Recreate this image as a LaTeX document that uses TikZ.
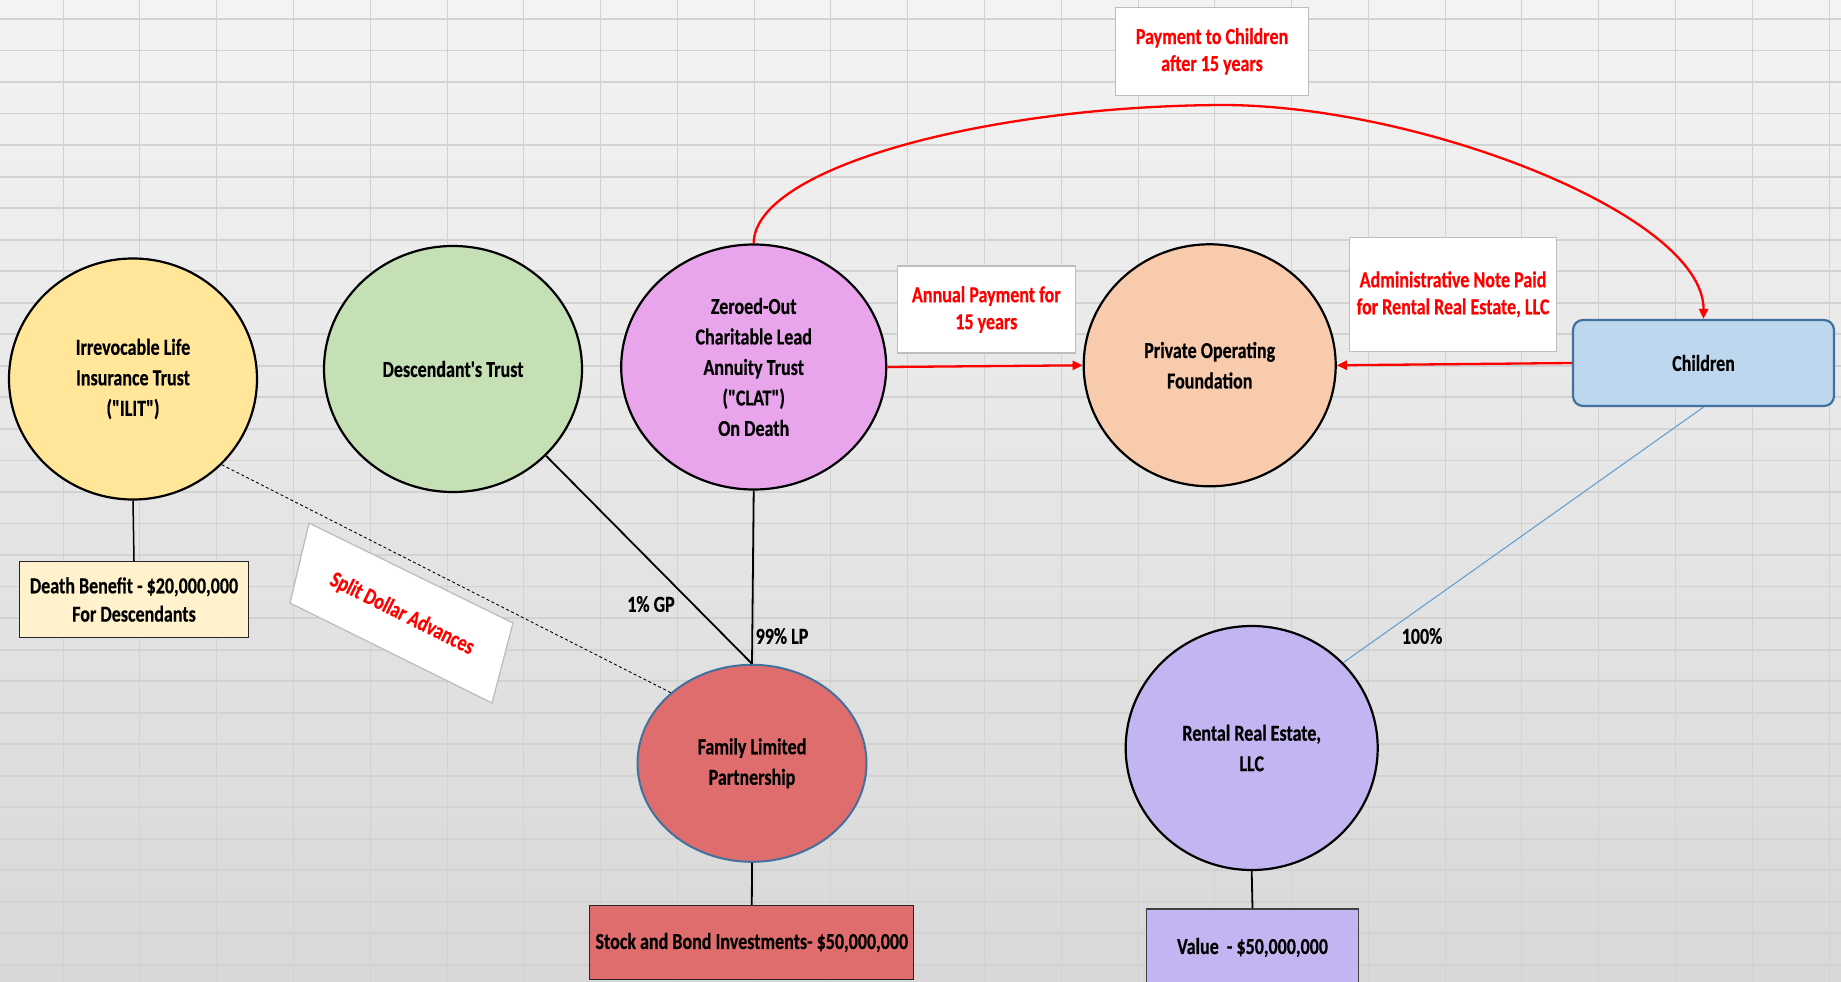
\documentclass[tikz,border=0pt]{standalone}
\usepackage{fontspec}
\setmainfont{Carlito}[FakeStretch=0.79, FakeBold=0.4, Ligatures=TeXOff]
\usetikzlibrary{arrows.meta,shapes.geometric}
\definecolor{bgtop}{RGB}{243,243,243}
\definecolor{bgbot}{RGB}{216,216,216}
\definecolor{gridc}{RGB}{210,210,210}
\definecolor{lgray}{RGB}{190,190,190}
\definecolor{ilitc}{RGB}{255,230,153}
\definecolor{descc}{RGB}{197,224,180}
\definecolor{clatc}{RGB}{232,165,235}
\definecolor{pofc}{RGB}{248,203,173}
\definecolor{flpc}{RGB}{224,109,109}
\definecolor{rentc}{RGB}{195,181,241}
\definecolor{childc}{RGB}{189,215,238}
\definecolor{childb}{RGB}{65,113,156}
\definecolor{deathc}{RGB}{255,242,204}
\definecolor{bline}{RGB}{91,155,213}
\begin{document}
\begin{tikzpicture}[x=1pt,y=-1pt,
  txt/.style={font=\bfseries\fontsize{22.8pt}{30.5pt}\selectfont, align=center, text=black},
  circ/.style={ellipse, draw=black, line width=2.2pt, inner sep=0pt, txt},
  sbox/.style={rectangle, draw=black!85, line width=1.3pt, inner sep=0pt, txt},
  lbox/.style={rectangle, fill=white, draw=lgray, line width=1.3pt, inner sep=0pt,
     font=\bfseries\fontsize{22.8pt}{27pt}\selectfont, align=center, text=red},
  conn/.style={draw=black, line width=1.8pt},
  redarr/.style={draw=red, line width=2.3pt, -{Triangle[length=10pt,width=9pt]}},
  pct/.style={font=\bfseries\fontsize{22.8pt}{27pt}\selectfont, text=black, inner sep=0pt},
  gridh/.style={draw=gridc, line width=1.8pt},
  gridv/.style={draw=gridc, line width=1pt}]
\useasboundingbox (0,0) rectangle (1841,982);
\shade[top color=bgtop, bottom color=bgbot] (0,0) rectangle (1841,982);
\foreach \k in {0,...,30} \draw[gridh] (0,{19+31.53*\k}) -- (1841,{19+31.53*\k});
\foreach \k in {0,...,23} \draw[gridv] ({63.1+76.78*\k},0) -- ({63.1+76.78*\k},982);

% main shapes
\node[circ, fill=ilitc, minimum width=248pt, minimum height=241pt] (ilit) at (133,379)
  {Irrevocable Life\\Insurance Trust\\("ILIT")};
\node[circ, fill=descc, minimum width=258pt, minimum height=246pt] (desc) at (453,369)
  {Descendant's Trust};
\node[circ, fill=clatc, minimum width=265pt, minimum height=245pt] (clat) at (753.7,367)
  {Zeroed-Out\\Charitable Lead\\Annuity Trust\\("CLAT")\\On Death};
\node[circ, fill=pofc, minimum width=252pt, minimum height=242pt] (pof) at (1209.7,365.3)
  {Private Operating\\Foundation};
\node[ellipse, draw=childb, line width=2pt, fill=flpc, inner sep=0pt, txt,
  minimum width=229pt, minimum height=197pt] (flp) at (752,763.3)
  {Family Limited\\Partnership};
\node[circ, fill=rentc, minimum width=252pt, minimum height=244pt] (rent) at (1251.7,748)
  {Rental Real Estate,\\LLC};
\node[rectangle, rounded corners=10pt, draw=childb, line width=2.2pt, fill=childc,
  inner sep=0pt, txt, minimum width=261pt, minimum height=86pt] (child) at (1703.5,363)
  {Children};

\node[sbox, fill=deathc, minimum width=229pt, minimum height=76pt,
  font=\bfseries\fontsize{22.8pt}{28.3pt}\selectfont] (death) at (134,599.5)
  {Death Benefit - \$20,000,000\\For Descendants};
\node[sbox, fill=flpc, minimum width=324pt, minimum height=74pt] (stock) at (751.8,942.5)
  {Stock and Bond Investments- \$50,000,000};
\node[sbox, fill=rentc, draw=black!75, minimum width=212pt, minimum height=77pt] (value) at (1252.5,947.5)
  {Value\ \ - \$50,000,000};

% label boxes
\node[lbox, minimum width=193pt, minimum height=88pt] (paych) at (1212,51.3)
  {Payment to Children\\after 15 years};
\node[lbox, minimum width=178pt, minimum height=87pt] (annual) at (986.3,309.5)
  {Annual Payment for\\15 years};
\node[lbox, minimum width=207pt, minimum height=114pt] (admin) at (1453,294.3)
  {Administrative Note Paid\\for Rental Real Estate, LLC};
\filldraw[fill=white, draw=lgray, line width=1.3pt]
  (309,523) -- (513,623) -- (492,703) -- (290,603) -- cycle;
\node[rotate=-26.5, text=red, inner sep=0pt,
  font=\bfseries\fontsize{22.8pt}{27pt}\selectfont] (sda) at (402,614) {Split Dollar Advances};

% percentage labels
\node[pct] (gp) at (651,604) {1\% GP};
\node[pct] (lp) at (782,636) {99\% LP};
\node[pct] (hund) at (1422,636) {100\%};

% connectors
\draw[conn, line width=1.5pt] (ilit.south) -- (death.north);
\draw[conn] (desc.-43.7) -- (flp.north);
\draw[conn] (clat.south) -- (flp.north);
\draw[draw=black, line width=0.9pt, dash pattern=on 3pt off 2.5pt] (ilit.-44.7) -- (flp.139.2);
\draw[conn] (flp.south) -- (stock.north);
\draw[conn] (rent.south) -- (value.north);
\draw[draw=bline, line width=1pt] (child.south) -- (rent.43.4);
\draw[redarr] (clat.east) -- (pof.west);
\draw[redarr] (child.west) -- (pof.east);
\draw[redarr] (clat.north) .. controls (754,168) and (985,106) .. (1222,105)
  .. controls (1420,105) and (1704,215) .. (child.north);
\end{tikzpicture}
\end{document}
